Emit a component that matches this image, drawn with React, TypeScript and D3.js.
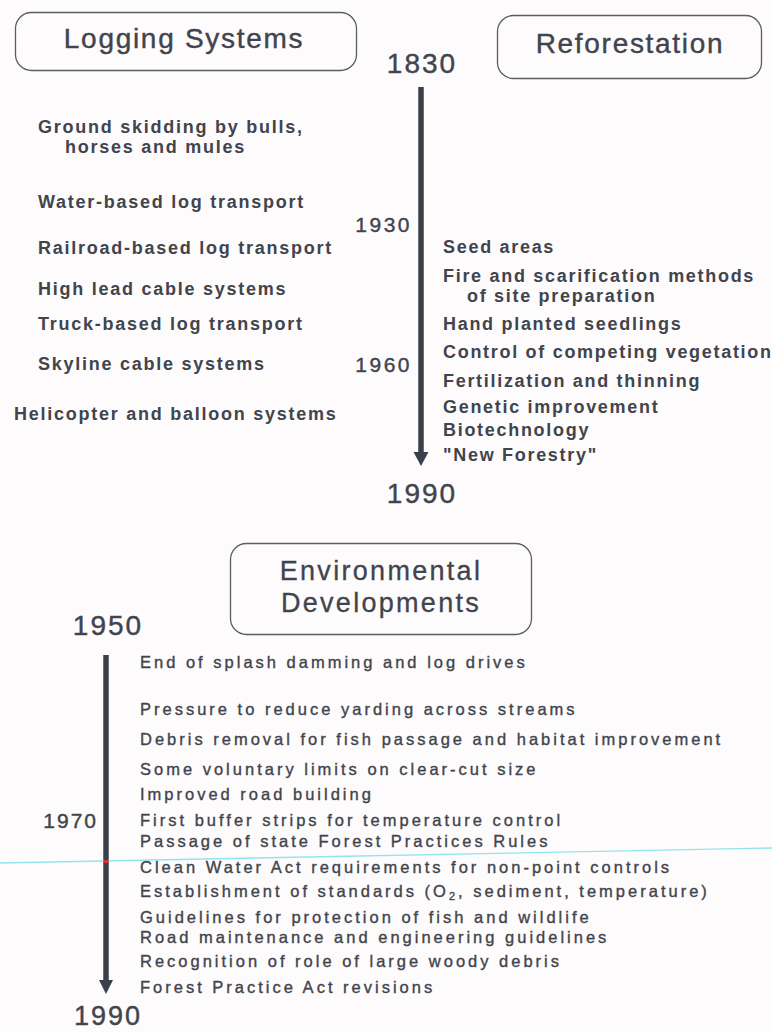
import React from "react";
import * as d3 from "d3";

// ---- Data ----
const topYears = [1830, 1930, 1960, 1990];
const topMidYears = [1930, 1960];
const loggingTitle = "Logging Systems";
const reforestTitle = "Reforestation";
const envTitle = ["Environmental", "Developments"];

const loggingLabels = [
  ["Ground skidding by bulls,", "horses and mules"],
  ["Water-based log transport"],
  ["Railroad-based log transport"],
  ["High lead cable systems"],
  ["Truck-based log transport"],
  ["Skyline cable systems"],
  ["Helicopter and balloon systems"],
];
// approximate timeline position (year) of each item
const loggingPos = [1859, 1913, 1935, 1943.7, 1951.2, 1959.8, 1974.7];

const reforestLabels = [
  ["Seed areas"],
  ["Fire and scarification methods", "of site preparation"],
  ["Hand planted seedlings"],
  ["Control of competing vegetation"],
  ["Fertilization and thinning"],
  ["Genetic improvement"],
  ["Biotechnology"],
  ["\"New Forestry\""],
];
const reforestPos = [1934.7, 1940.9, 1951.2, 1957.2, 1964.8, 1972.6, 1979.2, 1986.7];

const envYears = [1950, 1970, 1990];
const envMidYears = [1970];
const envLabels = [
  "End of splash damming and log drives",
  "Pressure to reduce yarding across streams",
  "Debris removal for fish passage and habitat improvement",
  "Some voluntary limits on clear-cut size",
  "Improved road building",
  "First buffer strips for temperature control",
  "Passage of state Forest Practices Rules",
  "Clean Water Act requirements for non-point controls",
  "Establishment of standards (O₂, sediment, temperature)",
  "Guidelines for protection of fish and wildlife",
  "Road maintenance and engineering guidelines",
  "Recognition of role of large woody debris",
  "Forest Practice Act revisions",
];
const envPos = [1950.9, 1956.6, 1960.2, 1963.8, 1966.8, 1969.9, 1972.4, 1975.4, 1978.2, 1981.1, 1983.5, 1986.3, 1989.2];

// ---- Styles ----
const FONT = "'Liberation Sans', Arial, Helvetica, sans-serif";
const TXT = "#41444c";
const AXIS = "#3a3f4a";
const BOX = "#5a5d64";

function EnvLabel({ text, x, y }: { text: string; x: number; y: number }) {
  const parts = text.split("₂");
  if (parts.length === 1) {
    return (
      <text x={x} y={y}>
        {text}
      </text>
    );
  }
  return (
    <text x={x} y={y}>
      {parts[0]}
      <tspan dy={3} fontSize={11}>2</tspan>
      <tspan dy={-3}>{parts[1]}</tspan>
    </text>
  );
}

export default function App() {
  React.useEffect(() => {
    document.body.style.margin = "0";
    document.body.style.background = "#fdfbfb";
  }, []);

  // top timeline scale (piecewise linear)
  const yTop = d3.scaleLinear().domain(topYears).range([87, 225, 365, 466]);
  const axisTopX = 421;
  const yEnv = d3.scaleLinear().domain(envYears).range([655, 821, 994]);
  const axisEnvX = 106;

  const leftX = (i: number) => (i === loggingLabels.length - 1 ? 14 : 38);

  return (
    <svg
      width={772}
      height={1032}
      style={{ position: "absolute", left: 0, top: 0, display: "block", background: "#fdfbfb" }}
      fontFamily={FONT}
    >
      {/* Heading boxes */}
      <rect x={15.5} y={12.5} width={341} height={58} rx={16} fill="none" stroke={BOX} strokeWidth={1.3} />
      <text x={184} y={48} textAnchor="middle" fontSize={28} letterSpacing={1.7} fill={TXT} stroke={TXT} strokeWidth={0.4}>
        {loggingTitle}
      </text>
      <rect x={497.5} y={15.5} width={264} height={63} rx={16} fill="none" stroke={BOX} strokeWidth={1.3} />
      <text x={630} y={53} textAnchor="middle" fontSize={28} letterSpacing={1.7} fill={TXT} stroke={TXT} strokeWidth={0.4}>
        {reforestTitle}
      </text>

      {/* Top timeline */}
      <line x1={axisTopX} x2={axisTopX} y1={yTop(1830)} y2={yTop(1990) - 13} stroke={AXIS} strokeWidth={5.5} />
      <polygon
        points={`${axisTopX - 7.5},${yTop(1990) - 14} ${axisTopX + 7.5},${yTop(1990) - 14} ${axisTopX},${yTop(1990)}`}
        fill={AXIS}
      />
      <g stroke={TXT} strokeWidth={0.4} fill={TXT}>
        <text x={axisTopX + 1} y={yTop(1830) - 14} textAnchor="middle" fontSize={28} letterSpacing={2}>
          {topYears[0]}
        </text>
        <text x={axisTopX + 1} y={yTop(1990) + 37} textAnchor="middle" fontSize={28} letterSpacing={2}>
          {topYears[topYears.length - 1]}
        </text>
        {topMidYears.map((yr) => (
          <text key={yr} x={412} y={yTop(yr) + 7} textAnchor="end" fontSize={21} letterSpacing={2.5}>
            {yr}
          </text>
        ))}
      </g>

      {/* Logging items */}
      <g fontSize={18} fontWeight="bold" letterSpacing={1.75} fill={TXT}>
        {loggingLabels.map((lines, i) => (
          <g key={i}>
            {lines.map((ln, j) => (
              <text key={j} x={leftX(i) + (j > 0 ? 27 : 0)} y={yTop(loggingPos[i]) + 6 + j * 20}>
                {ln}
              </text>
            ))}
          </g>
        ))}
      </g>

      {/* Reforestation items */}
      <g fontSize={18} fontWeight="bold" letterSpacing={1.7} fill={TXT}>
        {reforestLabels.map((lines, i) => (
          <g key={i}>
            {lines.map((ln, j) => (
              <text key={j} x={443 + (j > 0 ? 24 : 0)} y={yTop(reforestPos[i]) + 6 + j * 20}>
                {ln}
              </text>
            ))}
          </g>
        ))}
      </g>

      {/* Environmental heading */}
      <rect x={230.5} y={543.5} width={301} height={91} rx={16} fill="none" stroke={BOX} strokeWidth={1.3} />
      {envTitle.map((t, i) => (
        <text key={t} x={381} y={580 + i * 32} textAnchor="middle" fontSize={27} letterSpacing={2.3} fill={TXT} stroke={TXT} strokeWidth={0.3}>
          {t}
        </text>
      ))}

      {/* Environmental timeline */}
      <g stroke={TXT} strokeWidth={0.4} fill={TXT}>
        <text x={axisEnvX + 2} y={yEnv(1950) - 20} textAnchor="middle" fontSize={28} letterSpacing={2}>
          {envYears[0]}
        </text>
        <text x={axisEnvX + 2} y={yEnv(1990) + 31} textAnchor="middle" fontSize={27} letterSpacing={2}>
          {envYears[envYears.length - 1]}
        </text>
        {envMidYears.map((yr) => (
          <text key={yr} x={98} y={yEnv(yr) + 7} textAnchor="end" fontSize={21} letterSpacing={2}>
            {yr}
          </text>
        ))}
      </g>
      <line x1={axisEnvX} x2={axisEnvX} y1={yEnv(1950)} y2={yEnv(1990) - 13} stroke={AXIS} strokeWidth={5.5} />
      <polygon
        points={`${axisEnvX - 7},${yEnv(1990) - 14} ${axisEnvX + 7},${yEnv(1990) - 14} ${axisEnvX},${yEnv(1990)}`}
        fill={AXIS}
      />

      <g fontSize={16.5} letterSpacing={3} fill={TXT} stroke={TXT} strokeWidth={0.35}>
        {envLabels.map((t, i) => (
          <EnvLabel key={i} text={t} x={140} y={yEnv(envPos[i]) + 5.5} />
        ))}
      </g>

      {/* scan artifact: faint cyan line */}
      <line x1={0} y1={863} x2={772} y2={848} stroke="#8fe6ec" strokeWidth={1.4} />
      <rect x={103.5} y={860} width={5} height={3} fill="#d8302a" />
    </svg>
  );
}
